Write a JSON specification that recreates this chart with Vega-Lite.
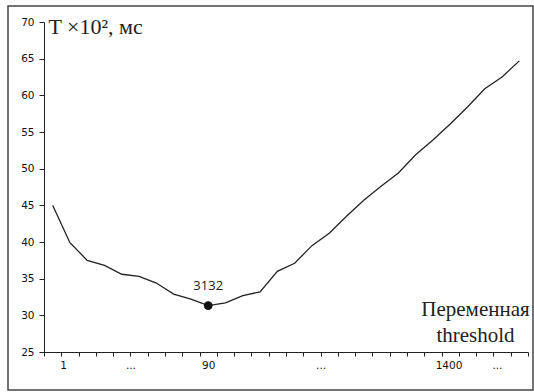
{
  "$schema": "https://vega.github.io/schema/vega-lite/v6.json",
  "autosize": {"type": "none"},
  "padding": {"left": 8, "top": 6, "right": 1, "bottom": 2},
  "width": 525,
  "height": 384,
  "background": "white",
  "config": {
    "view": {"stroke": "#444", "strokeWidth": 1.5},
    "axis": {"grid": false, "domainColor": "#222", "tickColor": "#222", "labelColor": "#111", "labelFont": "DejaVu Sans", "labelFontSize": 10.5}
  },
  "data": {"values": [
    {"i": 0, "v": 45.0}, {"i": 1, "v": 39.9}, {"i": 2, "v": 37.5}, {"i": 3, "v": 36.8},
    {"i": 4, "v": 35.6}, {"i": 5, "v": 35.3}, {"i": 6, "v": 34.4}, {"i": 7, "v": 32.9},
    {"i": 8, "v": 32.2}, {"i": 9, "v": 31.32}, {"i": 10, "v": 31.7}, {"i": 11, "v": 32.7},
    {"i": 12, "v": 33.2}, {"i": 13, "v": 36.0}, {"i": 14, "v": 37.1}, {"i": 15, "v": 39.5},
    {"i": 16, "v": 41.2}, {"i": 17, "v": 43.5}, {"i": 18, "v": 45.7}, {"i": 19, "v": 47.6},
    {"i": 20, "v": 49.4}, {"i": 21, "v": 51.9}, {"i": 22, "v": 53.9}, {"i": 23, "v": 56.1},
    {"i": 24, "v": 58.4}, {"i": 25, "v": 60.9}, {"i": 26, "v": 62.5}, {"i": 27, "v": 64.7}
  ]},
  "encoding": {
    "x": {
      "field": "i", "type": "quantitative",
      "scale": {"domain": [-0.5, 27.5], "range": [36, 520], "nice": false, "zero": false},
      "axis": {
        "orient": "bottom",
        "offset": -38,
        "values": [-0.5, 0.5, 0.6, 1.5, 2.5, 3.5, 4.5, 5.5, 6.5, 7.5, 8.5, 9, 9.5, 10.5, 11.5, 12.5, 13.5, 14.5, 15.5, 16.5, 17.5, 18.5, 19.5, 20.5, 21.5, 22.5, 22.9, 23.5, 24.5, 25.5, 25.7, 26.5, 27.5],
        "labelExpr": "datum.value == 0.6 ? '1' : datum.value == 4.5 ? '...' : datum.value == 9 ? '90' : datum.value == 15.5 ? '...' : datum.value == 22.9 ? '1400' : datum.value == 25.7 ? '...' : ''",
        "tickOpacity": {"condition": {"test": "abs(datum.value % 1) == 0.5", "value": 1}, "value": 0},
        "labelOverlap": false,
        "labelFlush": false,
        "tickSize": 4,
        "labelPadding": 4,
        "title": ["Переменная", "threshold"],
        "titleFont": "Liberation Serif",
        "titleFontSize": 21,
        "titleFontWeight": "normal",
        "titleColor": "#222",
        "titleAnchor": null,
        "titleAlign": "center",
        "titleBaseline": "alphabetic",
        "titleX": 467,
        "titleY": -37,
        "titleLineHeight": 26
      }
    },
    "y": {
      "field": "v", "type": "quantitative",
      "scale": {"domain": [25, 70], "range": [346, 16], "nice": false, "zero": false},
      "axis": {
        "orient": "left",
        "offset": -36,
        "values": [25, 30, 35, 40, 45, 50, 55, 60, 65, 70],
        "tickSize": 5,
        "labelPadding": 5,
        "title": "T ×10², мс",
        "titleFont": "Liberation Serif",
        "titleFontSize": 22,
        "titleFontWeight": "normal",
        "titleColor": "#222",
        "titleAngle": 0,
        "titleAnchor": null,
        "titleAlign": "left",
        "titleBaseline": "alphabetic",
        "titleX": 4,
        "titleY": 27
      }
    }
  },
  "layer": [
    {"mark": {"type": "line", "color": "#222", "strokeWidth": 1.3}},
    {
      "transform": [{"filter": "datum.i == 9"}],
      "mark": {"type": "point", "filled": true, "color": "#111", "size": 75, "opacity": 1}
    },
    {
      "transform": [{"filter": "datum.i == 9"}, {"calculate": "format(datum.v * 100, 'd')", "as": "label"}],
      "mark": {"type": "text", "font": "Open Sans", "fontSize": 13, "color": "#222", "dy": -16, "baseline": "alphabetic", "align": "center"},
      "encoding": {"text": {"field": "label"}}
    }
  ]
}
